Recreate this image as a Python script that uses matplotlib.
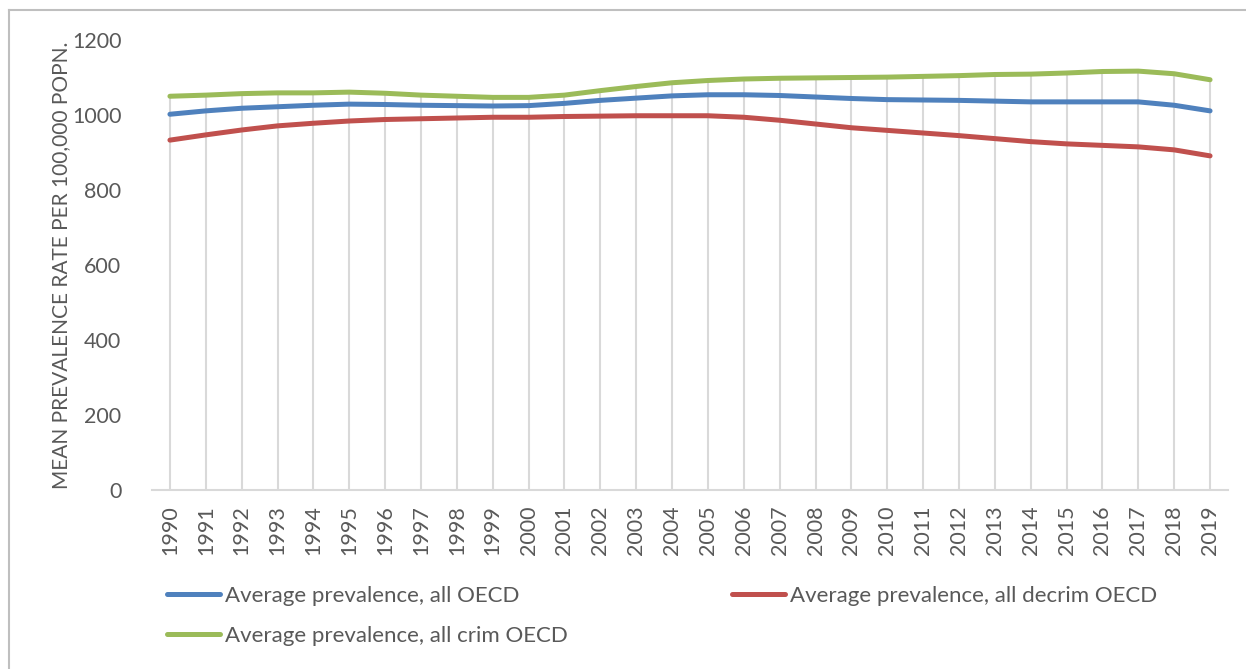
import matplotlib
matplotlib.use("Agg")
import matplotlib.pyplot as plt
from matplotlib.lines import Line2D

years = list(range(1990, 2020))
all_oecd = [1002, 1011, 1018, 1022, 1026, 1029, 1028, 1026, 1025, 1024,
            1025, 1031, 1039, 1045, 1051, 1054, 1054, 1052, 1048, 1044,
            1041, 1040, 1039, 1037, 1035, 1035, 1035, 1035, 1026, 1011]
decrim_oecd = [933, 947, 960, 971, 978, 984, 988, 990, 992, 994,
               994, 996, 997, 998, 998, 998, 994, 986, 976, 966,
               959, 952, 945, 937, 929, 923, 919, 915, 907, 891]
crim_oecd = [1050, 1053, 1057, 1059, 1059, 1061, 1058, 1053, 1050, 1047,
             1047, 1053, 1065, 1076, 1086, 1092, 1096, 1098, 1099, 1100,
             1101, 1103, 1105, 1108, 1109, 1112, 1116, 1117, 1110, 1094]
series_names = ["Average prevalence, all OECD",
                "Average prevalence, all decrim OECD",
                "Average prevalence, all crim OECD"]
y_ticks = [0, 200, 400, 600, 800, 1000, 1200]
y_label = "MEAN PREVALENCE RATE PER 100,000 POPN."

plt.rcParams['font.family'] = ['Lato', 'DejaVu Sans']
txt = '#595959'
colors = ['#4F81BD', '#C0504D', '#9BBB59']

fig = plt.figure(figsize=(12.46, 6.69), dpi=100)
ax = fig.add_axes([152/1246, 1-490/669, (1228-152)/1246, 450/669])

x = list(range(len(years)))
tops = [max(a, b, c) for a, b, c in zip(all_oecd, decrim_oecd, crim_oecd)]
ax.vlines(x, 0, tops, colors='#d9d9d9', linewidth=1.5, zorder=1)
for vals, col in zip([all_oecd, decrim_oecd, crim_oecd], colors):
    ax.plot(x, vals, color=col, linewidth=3.6, solid_capstyle='round', zorder=3)

ax.set_xlim(-0.5, len(years) - 0.5)
ax.set_ylim(0, 1200)
ax.set_yticks(y_ticks)
ax.set_yticklabels([str(v) for v in y_ticks], fontsize=15.5, color=txt)
ax.set_xticks(x)
ax.set_xticklabels([str(y) for y in years], rotation=90, fontsize=15.5, color=txt)
ax.tick_params(axis='both', length=0)
ax.tick_params(axis='y', pad=22)
ax.tick_params(axis='x', pad=11)
for s in ['top', 'right', 'left']:
    ax.spines[s].set_visible(False)
ax.spines['bottom'].set_color('#d9d9d9')
ax.spines['bottom'].set_linewidth(1.5)
ax.set_ylabel(y_label, fontsize=15, color=txt)
ax.yaxis.set_label_coords((71 - 152) / 1076, 0.5)

# legend entries, placed individually
handles = [Line2D([0], [0], color=c, linewidth=3.6, solid_capstyle='round') for c in colors]
positions = [(167, 596), (732, 596), (167, 636)]
for h, name, (px, py) in zip(handles, series_names, positions):
    fig.legend([h], [name], loc='center left',
               bbox_to_anchor=(px/1246, 1-py/669),
               frameon=False, fontsize=16, labelcolor=txt, handlelength=2.4,
               handletextpad=0.2, borderaxespad=0, borderpad=0)

# outer chart border (top and left visible)
fig.add_artist(Line2D([9/1246, 1], [1-10/669, 1-10/669], color='#bfbfbf', linewidth=1.5))
fig.add_artist(Line2D([9/1246, 9/1246], [0, 1-10/669], color='#bfbfbf', linewidth=1.5))

fig.savefig('out.png', dpi=100, facecolor='white')
